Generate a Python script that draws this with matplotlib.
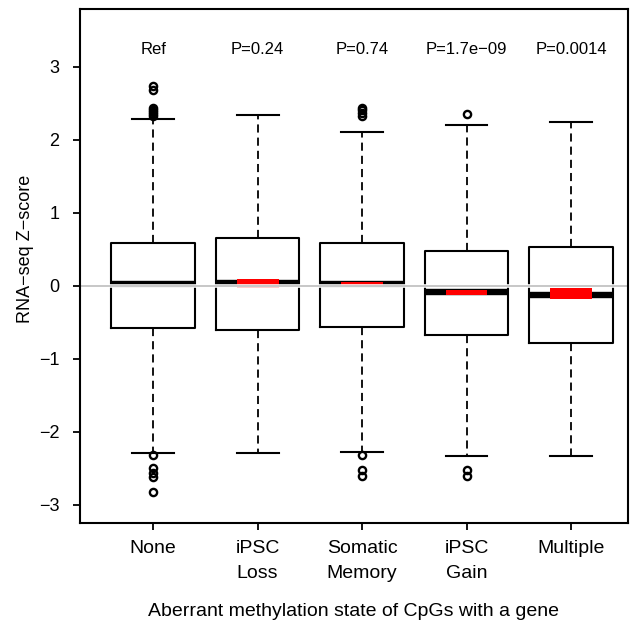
import matplotlib
matplotlib.use("Agg")
import matplotlib.pyplot as plt
from matplotlib.patches import Rectangle

plt.rcParams['font.family'] = ['Liberation Sans', 'DejaVu Sans']

# ---- data ----
categories = ["None", "iPSC\nLoss", "Somatic\nMemory", "iPSC\nGain", "Multiple"]
medians = [0.02, 0.035, 0.018, -0.09, -0.133]
q1 = [-0.58, -0.60, -0.57, -0.67, -0.785]
q3 = [0.585, 0.65, 0.59, 0.48, 0.525]
whisk_lo = [-2.29, -2.29, -2.28, -2.33, -2.33]
whisk_hi = [2.29, 2.34, 2.10, 2.20, 2.24]
outliers = [
    [2.32, 2.35, 2.38, 2.41, 2.44, 2.68, 2.74, -2.32, -2.50, -2.56, -2.62, -2.83],
    [],
    [2.32, 2.36, 2.40, 2.44, -2.32, -2.53, -2.60],
    [2.35, -2.52, -2.60],
    [],
]
ci_low = [None, -0.037, -0.015, -0.127, -0.188]
ci_high = [None, 0.092, 0.045, -0.055, -0.027]
pvalues = ["Ref", "P=0.24", "P=0.74", "P=1.7e\u221209", "P=0.0014"]

# ---- figure ----
W, H = 641, 626
fig = plt.figure(figsize=(W / 100, H / 100), dpi=100)
ax = fig.add_axes([80 / W, (H - 523) / H, 548 / W, 514 / H])

positions = list(range(1, len(categories) + 1))
stats = []
for i in range(len(categories)):
    stats.append(dict(med=medians[i], q1=q1[i], q3=q3[i],
                      whislo=whisk_lo[i], whishi=whisk_hi[i],
                      fliers=outliers[i], label=categories[i]))

ax.bxp(stats, positions=positions, widths=0.8, capwidths=0.4,
       boxprops=dict(color='black', linewidth=1.5),
       medianprops=dict(color='black', linewidth=4.6, solid_capstyle='butt'),
       whiskerprops=dict(color='black', linewidth=1.3, linestyle=(0, (4.5, 2.8))),
       capprops=dict(color='black', linewidth=1.5),
       flierprops=dict(marker='o', markerfacecolor='none', markeredgecolor='black',
                       markersize=5.2, markeredgewidth=1.7, linestyle='none'),
       manage_ticks=False)

# red median confidence bars
for i, p in enumerate(positions):
    if ci_low[i] is None:
        continue
    ax.add_patch(Rectangle((p - 0.2, ci_low[i]), 0.4, ci_high[i] - ci_low[i],
                           facecolor='#FF0000', edgecolor='none', zorder=3))

# reference line at zero with white halo
ax.axhline(0, color='white', linewidth=2.6, zorder=4)
ax.axhline(0, color='#BEBEBE', linewidth=1.2, zorder=5)

# p-value annotations
for p, txt in zip(positions, pvalues):
    ax.text(p, 3.23, txt, ha='center', va='center', fontsize=12)

ax.set_xlim(0.30, 5.545)
ax.set_ylim(-3.25, 3.79)
ax.set_xticks(positions)
ax.set_xticklabels(categories, fontsize=14, linespacing=1.55)
ax.set_yticks([-3, -2, -1, 0, 1, 2, 3])
ax.set_yticklabels(['\u22123', '\u22122', '\u22121', '0', '1', '2', '3'], fontsize=13)
ax.tick_params(axis='both', direction='out', length=5, width=1.3, color='black')
ax.tick_params(axis='y', pad=10)
ax.tick_params(axis='x', pad=7.5)
for s in ax.spines.values():
    s.set_linewidth(1.5)
    s.set_zorder(10)

fig.text(26 / W, 1 - 249 / H, "RNA\u2212seq Z\u2212score", rotation=90,
         ha='center', va='center', fontsize=13)
fig.text(0.5 * (80 + 628) / W, 1 - 612 / H, "Aberrant methylation state of CpGs with a gene",
         ha='center', va='center', fontsize=14)

fig.savefig("out.png", dpi=100)
